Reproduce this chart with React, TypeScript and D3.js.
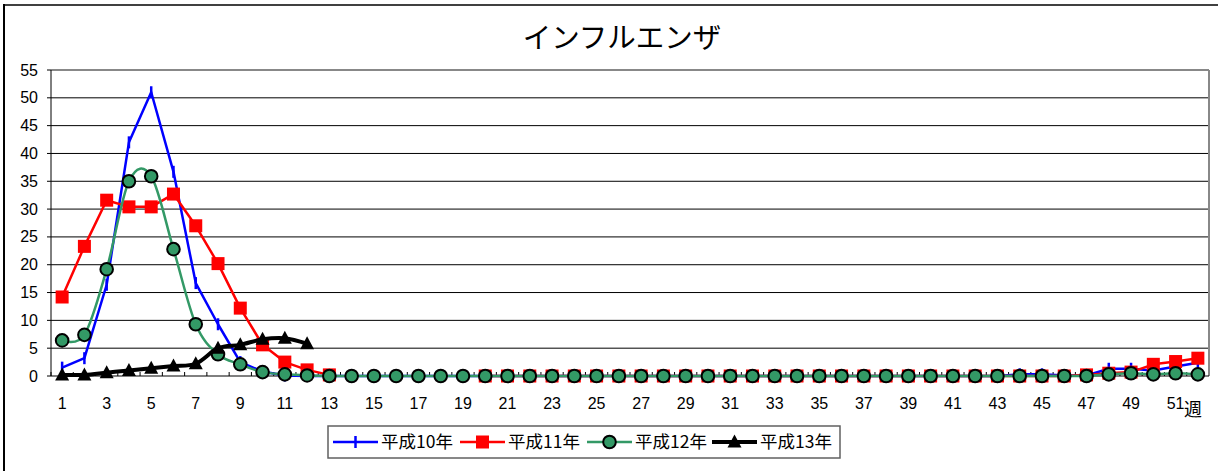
import React from "react";
import * as d3 from "d3";

const TITLE = "インフルエンザ";
const weeks: number[] = Array.from({ length: 52 }, (_, i) => i + 1);
const yTicks: number[] = [0, 5, 10, 15, 20, 25, 30, 35, 40, 45, 50, 55];
const xLabelWeeks: number[] = [1, 3, 5, 7, 9, 11, 13, 15, 17, 19, 21, 23, 25, 27, 29, 31, 33, 35, 37, 39, 41, 43, 45, 47, 49, 51];
const xAxisTitle = "週";
const seriesNames: string[] = ["平成10年", "平成11年", "平成12年", "平成13年"];

const zeros = (n: number): number[] => Array.from({ length: n }, () => 0);
const nulls = (n: number): (number | null)[] => Array.from({ length: n }, () => null);

// 平成10年
const h10: (number | null)[] = [
  1.5, 3.2, 16.4, 42, 51, 36.7, 16.7, 9.3, 2.5, 0.8, 0.1,
  ...zeros(32), // weeks 12-43
  0.3, 0.3, 0.1, 0.1, 1.3, 1.3, 1.0, 1.7, 2.4,
];
// 平成11年
const h11: (number | null)[] = [
  14.2, 23.3, 31.6, 30.4, 30.4, 32.7, 27.0, 20.2, 12.2, 5.6, 2.5, 1.1, 0.2,
  ...nulls(6), // weeks 14-19
  ...zeros(27), // weeks 20-46
  0.2, 0.5, 0.7, 2.1, 2.6, 3.2,
];
// 平成12年
const h12: (number | null)[] = [
  6.4, 7.4, 19.2, 35.0, 35.9, 22.8, 9.3, 3.9, 2.1, 0.7, 0.3, 0.1,
  ...zeros(35), // weeks 13-47
  0.3, 0.5, 0.3, 0.5, 0.3,
];
// 平成13年
const h13: (number | null)[] = [
  0.2, 0.2, 0.6, 1.0, 1.4, 1.8, 2.2, 5.0, 5.6, 6.6, 6.8, 5.8,
  ...nulls(40),
];

const W = 1218;
const H = 471;
const FONT = "'Liberation Sans', Arial, 'Noto Sans CJK JP', sans-serif";
const JFONT = "'Noto Sans CJK JP', 'Liberation Sans', sans-serif";

const plotL = 51, plotR = 1209, plotT = 70, plotB = 376;

type Marker = "dash" | "square" | "circle" | "triangle";
interface Series { name: string; values: (number | null)[]; color: string; width: number; marker: Marker; smooth: boolean; }

const series: Series[] = [
  { name: seriesNames[0], values: h10, color: "#0000FF", width: 2.5, marker: "dash", smooth: false },
  { name: seriesNames[1], values: h11, color: "#FF0000", width: 2.5, marker: "square", smooth: false },
  { name: seriesNames[2], values: h12, color: "#339966", width: 2.5, marker: "circle", smooth: true },
  { name: seriesNames[3], values: h13, color: "#000000", width: 4, marker: "triangle", smooth: true },
];

function MarkerShape({ m, cx, cy }: { m: Marker; cx: number; cy: number }) {
  if (m === "dash") return <line x1={cx} x2={cx} y1={cy - 6} y2={cy + 6} stroke="#0000FF" strokeWidth={2.5} />;
  if (m === "square") return <rect x={cx - 6.5} y={cy - 6.5} width={13} height={13} fill="#FF0000" />;
  if (m === "circle") return <circle cx={cx} cy={cy} r={6.3} fill="#339966" stroke="#000" strokeWidth={2} />;
  return <path d={`M${cx},${cy - 7.5}L${cx + 7},${cy + 5.5}L${cx - 7},${cy + 5.5}Z`} fill="#000" />;
}

export default function App() {
  const x = d3.scaleBand<number>().domain(weeks).range([plotL, plotR]);
  const y = d3.scaleLinear().domain([0, 55]).range([plotB, plotT]);
  const cx = (w: number) => (x(w) as number) + x.bandwidth() / 2;

  const legendItems = [
    { x0: 333, tx: 381 },
    { x0: 460, tx: 508 },
    { x0: 587, tx: 635 },
    { x0: 712, tx: 760 },
  ];

  return (
    <svg width={W} height={H} style={{ position: "absolute", left: 0, top: 0, background: "#fff" }}>
      <rect x={0} y={0} width={W} height={H} fill="#fff" />
      {/* outer frame */}
      <line x1={4} x2={W + 5} y1={5} y2={5} stroke="#404040" strokeWidth={2} />
      <line x1={4} x2={4} y1={4} y2={H + 5} stroke="#000" strokeWidth={2} />

      {/* title */}
      <text x={622} y={48} textAnchor="middle" fontFamily={JFONT} fontSize={28.5} fill="#000">{TITLE}</text>

      {/* gridlines */}
      {yTicks.filter(t => t > 0 && t < 55).map(t => (
        <line key={t} x1={plotL - 4} x2={plotR} y1={y(t)} y2={y(t)} stroke="#000" strokeWidth={1} />
      ))}
      {/* plot border top & right */}
      <line x1={plotL} x2={plotR} y1={y(55)} y2={y(55)} stroke="#888" strokeWidth={2} />
      <line x1={plotL - 4} x2={plotL} y1={y(55)} y2={y(55)} stroke="#000" strokeWidth={1} />
      <line x1={plotR} x2={plotR} y1={plotT} y2={plotB} stroke="#888" strokeWidth={2} />
      {/* axes */}
      <line x1={plotL} x2={plotL} y1={plotT} y2={plotB} stroke="#000" strokeWidth={1} />
      <line x1={plotL - 4} x2={plotR} y1={plotB} y2={plotB} stroke="#000" strokeWidth={1} />
      {weeks.map(w => (
        <line key={w} x1={x(w)} x2={x(w)} y1={plotB} y2={plotB - 4} stroke="#000" strokeWidth={1} />
      ))}

      {/* y labels */}
      {yTicks.map(t => (
        <text key={t} x={38} y={y(t) + 5.5} textAnchor="end" fontFamily={FONT} fontSize={16} fill="#000">{t}</text>
      ))}
      {/* x labels */}
      {xLabelWeeks.map(w => (
        <text key={w} x={cx(w)} y={409} textAnchor="middle" fontFamily={FONT} fontSize={16} fill="#000">{w}</text>
      ))}
      <text x={1193} y={416} textAnchor="middle" fontFamily={JFONT} fontSize={18} fill="#000">{xAxisTitle}</text>

      {/* series */}
      {series.map(s => {
        const gen = d3.line<number | null>()
          .defined(v => v !== null)
          .x((_, i) => cx(weeks[i]))
          .y(v => y(v as number))
          .curve(s.smooth ? d3.curveCardinal.tension(0) : d3.curveLinear);
        return (
          <g key={s.name}>
            <path d={gen(s.values) || ""} fill="none" stroke={s.color} strokeWidth={s.width} strokeLinejoin="round" />
            {s.values.map((v, i) => v === null ? null : (
              <MarkerShape key={i} m={s.marker} cx={cx(weeks[i])} cy={y(v)} />
            ))}
          </g>
        );
      })}

      {/* legend */}
      <rect x={328} y={426} width={512} height={32} fill="#fff" stroke="#606060" strokeWidth={1.5} />
      {series.map((s, i) => {
        const it = legendItems[i];
        const ly = 442;
        return (
          <g key={s.name}>
            <line x1={it.x0} x2={it.x0 + 45} y1={ly} y2={ly} stroke={s.color} strokeWidth={s.width} />
            <MarkerShape m={s.marker} cx={it.x0 + 22.5} cy={ly} />
            <text x={it.tx} y={ly + 6} fontFamily={JFONT} fontSize={17.5} fill="#000">{s.name}</text>
          </g>
        );
      })}
    </svg>
  );
}
